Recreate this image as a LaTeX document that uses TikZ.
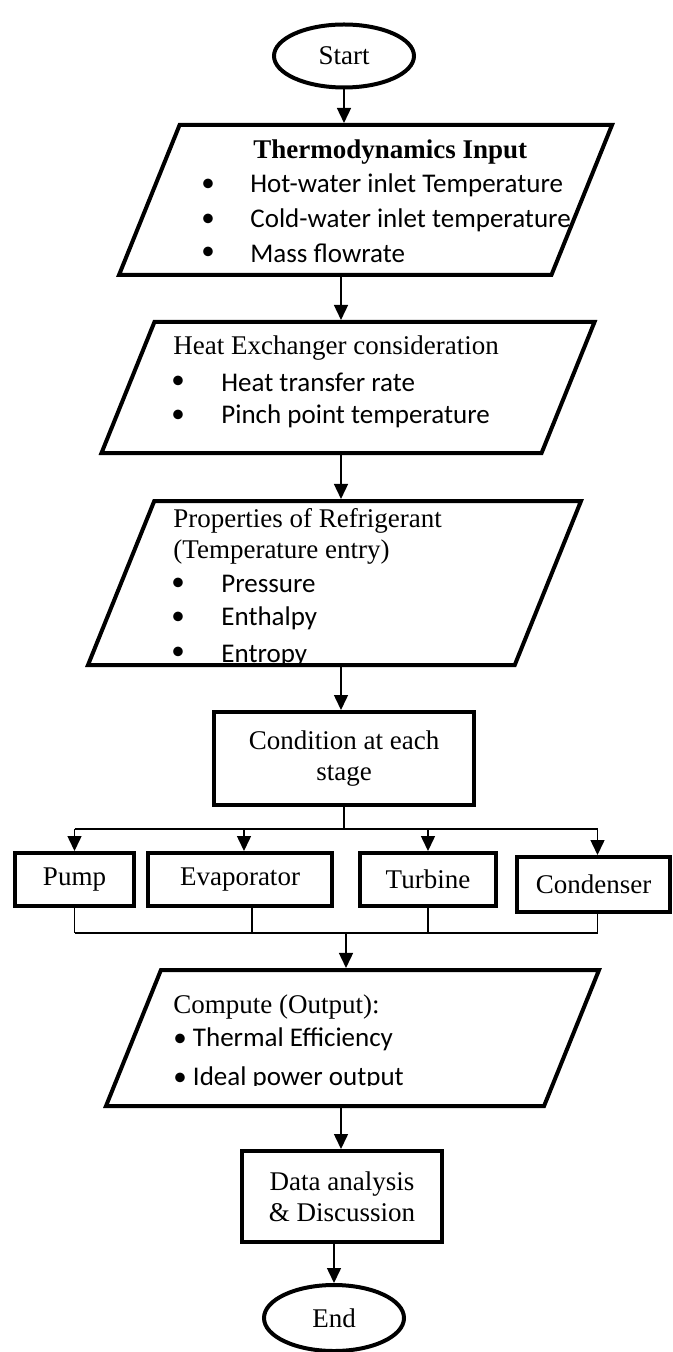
\documentclass[tikz,border=0pt]{standalone}
\usepackage{fontspec}
\setmainfont{Liberation Serif}
\newfontfamily\bodyfont{Carlito}
\usetikzlibrary{shapes.geometric}
\usetikzlibrary{arrows.meta}

\newcommand{\diagsize}{\fontsize{13.5}{15.5}\selectfont}

\tikzset{
  term/.style={ellipse, draw, line width=2pt, minimum width=70pt, inner sep=0pt, font=\diagsize},
  io/.style={trapezium, draw, line width=2pt, trapezium left angle=68, trapezium right angle=112,
    trapezium stretches body=true, minimum width=246.5pt, inner xsep=4pt, inner ysep=0pt,
    text height=#1, text depth=0pt},
  proc/.style={rectangle, draw, line width=2pt, align=center, inner sep=0pt, font=\diagsize},
  head/.style={anchor=west, inner sep=0pt, font=\diagsize},
  item/.style={anchor=west, inner sep=0pt, font=\diagsize\bodyfont},
  dot/.style={inner sep=0pt, font=\diagsize\bodyfont},
  link/.style={line width=0.75pt},
  arr/.style={link, -{Triangle[width=7pt,length=7.5pt]}}
}

\begin{document}
\begin{tikzpicture}[x=0.5pt, y=-0.5pt]
  % Fix the page size
  \useasboundingbox (0,0) rectangle (673,1352);
  \coordinate (axis) at (341,0);

  % Draw the start
  \node[term, minimum height=31.5pt] (start) at (344,56) {Start};

  % Draw the thermodynamic input
  \node[io=75pt] (input) at (365.5,200) {};
  \node[head, font=\diagsize\bfseries] (inputhead) at (253,152) {Thermodynamics Input};
  \node[dot] (inputdot1) at (208,185) {•};
  \node[dot] (inputdot2) at (208,220) {•};
  \node[dot] (inputdot3) at (208,253) {•};
  \node[item] (inputitem1) at (250,185) {Hot-water inlet Temperature};
  \node[item] (inputitem2) at (250,220) {Cold-water inlet temperature};
  \node[item] (inputitem3) at (250,253) {Mass flowrate};

  % Draw the heat exchanger box
  \node[io=65.5pt] (exch) at (348,387.5) {};
  \node[head] (exchhead) at (173,348) {Heat Exchanger consideration};
  \node[dot] (exchdot1) at (178,382) {•};
  \node[dot] (exchdot2) at (178,416) {•};
  \node[item] (exchitem1) at (221,382) {Heat transfer rate};
  \node[item] (exchitem2) at (221,416) {Pinch point temperature};

  % Draw the refrigerant properties
  \node[io=82pt] (props) at (334.5,583) {};
  \node[head] (propshead1) at (173,521) {Properties of Refrigerant};
  \node[head] (propshead2) at (173,552) {(Temperature entry)};
  \node[dot] (propsdot1) at (178,584) {•};
  \node[dot] (propsdot2) at (178,618) {•};
  \node[dot] (propsdot3) at (178,653) {•};
  \node[item] (propsitem1) at (221,584) {Pressure};
  \node[item] (propsitem2) at (221,618) {Enthalpy};
  \begin{scope}
    % the last line is cut off at its baseline
    \clip (0,0) rectangle (673,662);
    \node[item, anchor=base west] (propsitem3) at (221,662) {Entropy};
  \end{scope}

  % Draw the stage boxes
  \node[proc, minimum width=130pt, minimum height=46.5pt] (stage) at (344,758.5) {Condition at each\\stage};
  \node[proc, minimum width=59.5pt, minimum height=26.5pt] (pump) at (74.5,879.5) {Pump};
  \node[proc, minimum width=92pt, minimum height=26.5pt] (evap) at (240,879.5) {Evaporator};
  \node[proc, minimum width=68pt, minimum height=26.5pt] (turbine) at (428,879.5) {Turbine};
  \node[proc, minimum width=76.5pt, minimum height=27.5pt] (condenser) at (593.5,884.5) {Condenser};

  % Draw the output
  \node[io=68pt] (output) at (352.5,1038) {};
  \node[head] (outputhead) at (173,1007) {Compute (Output):};
  \node[item] (outputitem1) at (173,1039) {• Thermal Efficiency};
  \begin{scope}
    \clip (0,0) rectangle (673,1085);
    \node[item, anchor=base west] (outputitem2) at (173,1085) {• Ideal power output};
  \end{scope}

  % Draw the analysis and the end
  \node[proc, minimum width=100pt, minimum height=45.5pt] (data) at (342,1196.5) {Data analysis\\\& Discussion};
  \node[term, minimum height=33pt] (stop) at (334,1318) {End};

  % Draw the arrows down the middle
  \draw[arr] (start.south) -- (start.south |- input.north);
  \draw[arr] (axis |- input.south) -- (axis |- exch.north);
  \draw[arr] (axis |- exch.south) -- (axis |- props.north);
  \draw[arr] (axis |- props.south) -- (axis |- stage.north);

  % Draw the split to the four stages
  \coordinate (split) at (344,829);
  \coordinate (evapin) at ([xshift=2pt]evap.north);
  \coordinate (condin) at ([xshift=2pt]condenser.north);
  \draw[link] (stage.south) -- (split);
  \draw[link] (split -| pump.north) -- (split -| condin);
  \draw[arr] (split -| pump.north) -- (pump.north);
  \draw[arr] (split -| evapin) -- (evapin);
  \draw[arr] (split -| turbine.north) -- (turbine.north);
  \draw[arr] (split -| condin) -- (condin);

  % Draw the join below the stages
  \coordinate (join) at (346,933);
  \coordinate (evapout) at ([xshift=6pt]evap.south);
  \coordinate (condout) at ([xshift=2pt]condenser.south);
  \draw[link] (pump.south) -- (join -| pump.south);
  \draw[link] (evapout) -- (join -| evapout);
  \draw[link] (turbine.south) -- (join -| turbine.south);
  \draw[link] (condout) -- (join -| condout);
  \draw[link] (join -| pump.south) -- (join -| condout);
  \draw[arr] (join) -- (join |- output.north);

  % Draw the last arrows
  \draw[arr] (axis |- output.south) -- (axis |- data.north);
  \draw[arr] (data.south -| stop.north) -- (stop.north);
\end{tikzpicture}
\end{document}
